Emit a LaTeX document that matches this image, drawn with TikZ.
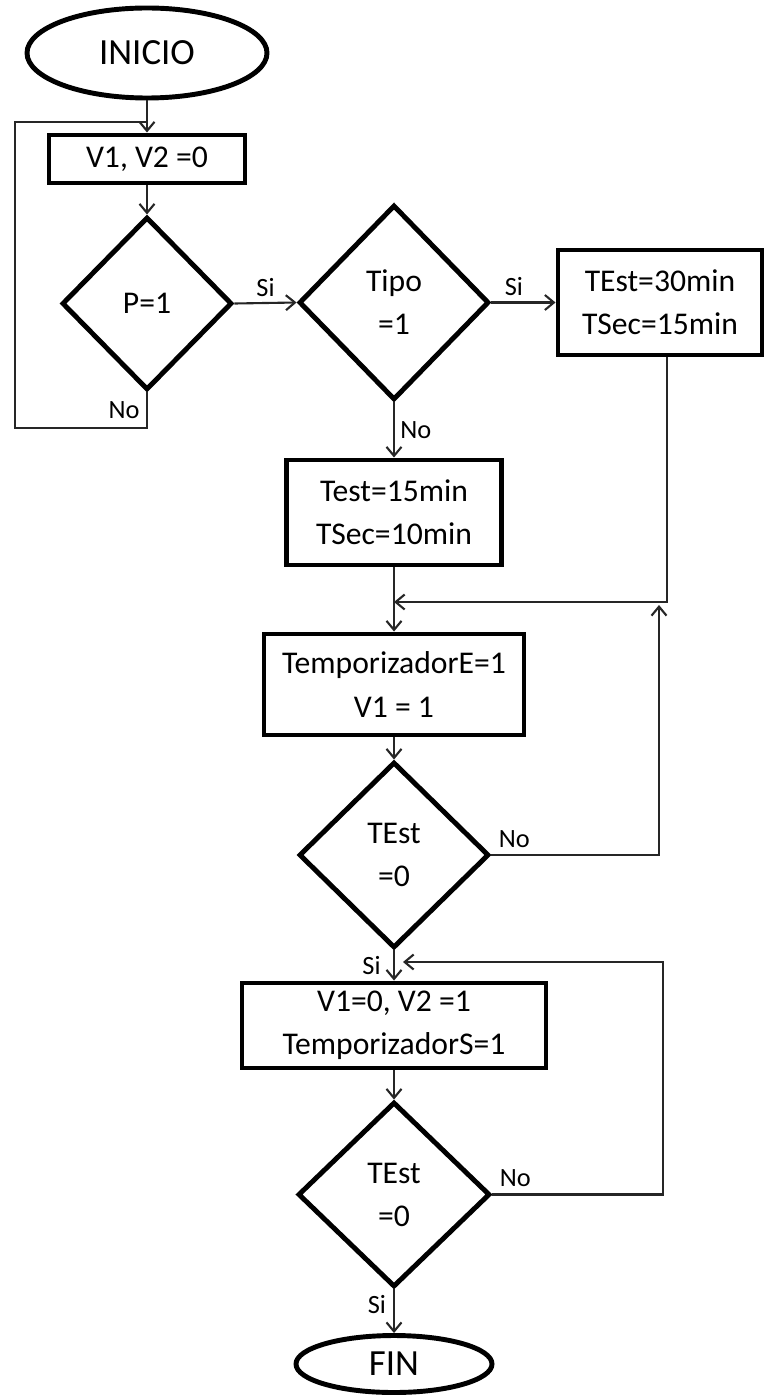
\documentclass[tikz,border=0pt]{standalone}
\usepackage{fontspec}
\setmainfont{Carlito}
\usepackage{tikz}
\usetikzlibrary{arrows.meta,positioning,calc,shapes.geometric}

\begin{document}
\begin{tikzpicture}[
  font=\fontsize{18}{24.5}\selectfont,
  box/.style={draw, line width=2.8pt, align=center, inner sep=2pt},
  dec/.style={diamond, draw, line width=2.8pt, align=center, inner sep=0pt},
  term/.style={ellipse, draw, line width=2.8pt, inner sep=0pt},
  ar/.style={-{Straight Barb[length=1.8mm,width=3mm]}, line width=1.2pt, draw=black!85},
  ln/.style={line width=1.2pt, draw=black!85},
  lab/.style={font=\fontsize{15}{17}\selectfont, inner sep=1pt},
]
\useasboundingbox (0,0) rectangle (15.32,-27.92);
% start and first test
\node[term, minimum width=4.8cm, minimum height=1.8cm, font=\fontsize{21}{24}\selectfont] (inicio) at (2.94,-1.06) {INICIO};
\node[box, minimum width=3.92cm, minimum height=0.96cm] (v0) at (2.94,-3.18) {V1, V2 =0};
\node[dec, minimum width=3.4cm, minimum height=3.46cm] (p) at (2.94,-6.07) {P=1};
\node[dec, minimum width=3.8cm, minimum height=3.9cm] (tipo) at (7.88,-6.05) {Tipo\\=1};
\node[box, minimum width=4.08cm, minimum height=2.1cm] (t30) at (13.2,-6.05) {TEst=30min\\TSec=15min};
\node[box, minimum width=4.3cm, minimum height=2.1cm] (t15) at (7.88,-10.25) {Test=15min\\TSec=10min};
% timers
\node[box, minimum width=5.2cm, minimum height=2.02cm] (tempe) at (7.88,-13.69) {TemporizadorE=1\\V1 = 1};
\node[dec, minimum width=3.8cm, minimum height=3.72cm] (test1) at (7.88,-17.1) {TEst\\=0};
\node[box, minimum width=6.08cm, minimum height=1.7cm] (temps) at (7.88,-20.51) {V1=0, V2 =1\\TemporizadorS=1};
\node[dec, minimum width=3.84cm, minimum height=3.7cm] (test2) at (7.88,-23.89) {TEst\\=0};
\node[term, minimum width=3.92cm, minimum height=1.14cm, font=\fontsize{21}{24}\selectfont] (fin) at (7.88,-27.28) {FIN};
% helper points for the loops
\coordinate (j1) at (2.94,-2.44);
\coordinate (lp) at (0.3,-8.56);
\coordinate (jA) at (7.88,-12.04);
\coordinate (jB) at (13.18,-12.1);
\coordinate (rC) at (13.26,-19.24);
\coordinate (jC) at (8.06,-19.24);
% connectors
\draw[ar] (inicio.south) -- (v0.north);
\draw[ar] (v0.south) -- (p.north);
\draw[ln] (p.south) |- (lp) |- (j1);
\node[lab] at (2.48,-8.2) {No};
\draw[ar] (p.east) -- node[lab, above=2pt] {Si} (tipo.west);
\draw[ar] (tipo.east) -- node[lab, above=2pt, pos=0.35] {Si} (t30.west);
\draw[ar] (tipo.south) -- node[lab, right=2pt] {No} (t15.north);
\draw[ar] ([xshift=0.14cm]t30.south) |- (jA);
\draw[ar] (t15.south) -- (tempe.north);
\draw[ar] (tempe.south) -- (test1.north);
\draw[ar] (test1.east) -| (jB);
\node[lab, anchor=south west] at ([xshift=3pt,yshift=3pt]test1.east) {No};
\draw[ar] (test1.south) -- node[lab, left=6pt] {Si} (temps.north);
\draw[ar] (temps.south) -- (test2.north);
\draw[ar] (test2.east) -| (rC) -- (jC);
\node[lab, anchor=south west] at ([xshift=3pt,yshift=3pt]test2.east) {No};
\draw[ar] (test2.south) -- node[lab, left=3pt, pos=0.35] {Si} (fin.north);
\end{tikzpicture}
\end{document}
